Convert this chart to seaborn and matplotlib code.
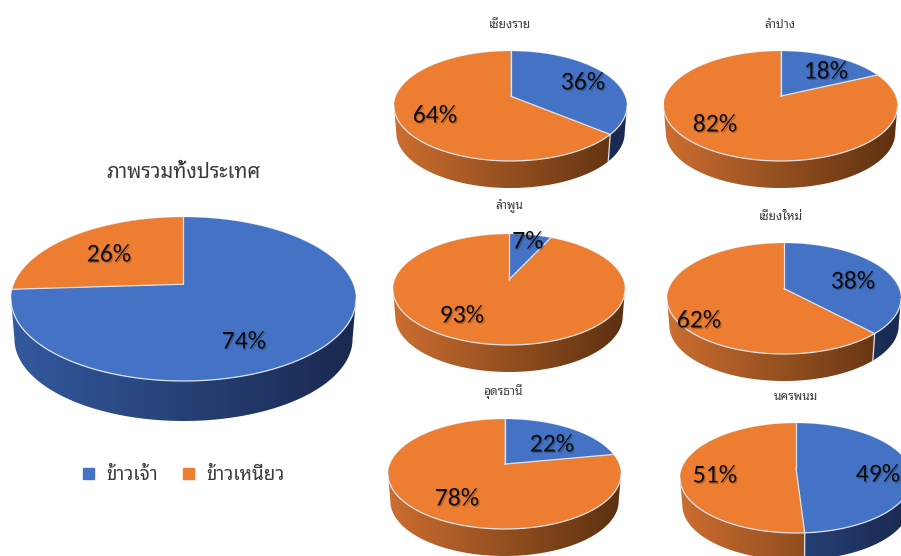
import numpy as np
import matplotlib
matplotlib.use('Agg')
import matplotlib.pyplot as plt
import matplotlib.patheffects as pe
from matplotlib.patches import Patch, Polygon
import seaborn as sns

sns.set_theme(style='white')
thai_font = ['Noto Sans Thai Looped', 'Sarabun', 'Noto Sans Thai', 'DejaVu Sans']
pct_font = ['Carlito', 'Lato', 'DejaVu Sans']

W, H = 901, 556

# data, blue share of each province (orange is the rest)
provinces = ['เชียงราย', 'ลำปาง', 'ลำพูน', 'เชียงใหม่', 'อุดรธานี', 'นครพนม']
blue_share = [36, 18, 7, 38, 22, 49]
orange_share = [64, 82, 93, 62, 78, 51]
overall_title = 'ภาพรวมทั้งประเทศ'
overall_blue = 74
overall_orange = 26
series_names = ['ข้าวเจ้า', 'ข้าวเหนียว']

colors = sns.color_palette(['#4472C4', '#ED7D31'])
side_left = [np.array([0.20, 0.35, 0.62]), np.array([0.80, 0.43, 0.19])]
side_right = [np.array([0.10, 0.16, 0.31]), np.array([0.36, 0.19, 0.06])]
rim = '#dde3ee'
text_color = '#3a3a3a'
TILT = 0.18
BOTTOM_SHRINK = 0.98

# layout in pixels: centre x, ellipse top, rx, ry, side depth
small_pies = [
    (510.5, 51, 116.5, 55, 27),
    (780.5, 51, 117, 55, 27),
    (509, 234, 116, 55.5, 27),
    (784, 243, 117, 55.5, 27),
    (504.5, 419, 116.5, 55, 27),
    (796, 423, 116, 55, 27),
]
big_pie = (183.5, 217, 172.5, 82, 40)
title_pos = [(510, 24), (780, 24), (509, 206), (781, 216), (503, 392), (796, 396)]
label_pos = [((583, 82), (435, 115)), ((826, 71), (715, 124)), ((528, 241), (462, 315)),
             ((853, 281), (699, 320)), ((552, 444), (457, 498)), ((878, 474), (715, 475))]
big_label_pos = ((244, 341), (109, 254))

fig = plt.figure(figsize=(W / 100, H / 100), dpi=100, facecolor='white')


def rim_point(theta, a=TILT):
    # circle seen in perspective, so the apex sits above the ellipse centre
    s = np.sqrt(1 - a * a)
    d = 1 + a * np.sin(theta)
    return np.cos(theta) * s / d, (np.sin(theta) + a) / d


def draw_pie(values, geom):
    cx, top, rx, ry, depth = geom
    dy = depth / ry
    ax = fig.add_axes([(cx - rx) / W, 1 - (top + 2 * ry + depth) / H, 2 * rx / W, (2 * ry + depth) / H])
    ax.axis('off')
    ax.patch.set_alpha(0)

    edges = np.pi / 2 - 2 * np.pi * np.cumsum([0] + list(values)) / sum(values)
    u = np.arcsin(TILT)

    # side wall first, only the part of each slice facing the viewer
    for i in range(len(values)):
        lo = max(edges[i + 1], -np.pi + u)
        hi = min(edges[i], -u)
        if lo >= hi:
            continue
        x, y = rim_point(np.linspace(lo, hi, 200))
        wall = Polygon(np.c_[np.r_[x, x[::-1] * BOTTOM_SHRINK], np.r_[y, y[::-1] - dy]],
                       closed=True, fc='none', ec='none', transform=ax.transData)
        ax.add_patch(wall)
        k = np.linspace(0, 1, 256)[None, :, None]
        grad = side_left[i] * (1 - k) + side_right[i] * k
        im = ax.imshow(grad, extent=(-1, 1, -1 - dy, 1), aspect='auto', zorder=1, interpolation='bilinear')
        im.set_clip_path(wall)

    # top faces
    for i in range(len(values)):
        x, y = rim_point(np.linspace(edges[i], edges[i + 1], 240))
        ax.fill(np.r_[0.0, x], np.r_[TILT, y], color=colors[i], lw=0, zorder=2)

    # pale lines on the rim and the slice borders
    t = np.linspace(-np.pi, 0, 300)
    ax.plot(np.cos(t), np.sin(t), color=rim, lw=0.9, zorder=3)
    t = np.linspace(0, np.pi, 300)
    ax.plot(np.cos(t), np.sin(t), color=rim, lw=0.3, alpha=0.5, zorder=3)
    for e in edges[:-1]:
        ex, ey = rim_point(e)
        ax.plot([0.0, ex], [TILT, ey], color=rim, lw=0.9, zorder=3)
    for e in edges[1:-1]:
        ex, ey = rim_point(e)
        if np.sin(e) < -TILT:
            ax.plot([ex, ex * BOTTOM_SHRINK], [ey, ey - dy], color=rim, lw=0.9, zorder=3)

    ax.set_xlim(-1, 1)
    ax.set_ylim(-1 - dy, 1)
    return ax


def px_text(pos, s, **kw):
    return fig.text(pos[0] / W, 1 - pos[1] / H, s, ha='center', va='center', **kw)


def pct_label(pos, value):
    px_text(pos, f'{value}%', family=pct_font, fontsize=18.5, color='#0c0c0c', zorder=10,
            path_effects=[pe.withSimplePatchShadow(offset=(1, -1), shadow_rgbFace='#000000', alpha=0.22)])


draw_pie([overall_blue, overall_orange], big_pie)
for lab, p in zip((overall_blue, overall_orange), big_label_pos):
    pct_label(p, lab)
px_text((184, 173), overall_title, family=thai_font, fontsize=14.5, color=text_color, weight='medium')

for name, b, o, geom, tp, lp in zip(provinces, blue_share, orange_share, small_pies, title_pos, label_pos):
    draw_pie([b, o], geom)
    pct_label(lp[0], b)
    pct_label(lp[1], o)
    px_text(tp, name, family=thai_font, fontsize=8.6, color=text_color, weight='medium')

handles = [Patch(color=colors[0], label=series_names[0]), Patch(color=colors[1], label=series_names[1])]
fig.legend(handles=handles, loc='center', bbox_to_anchor=(183.5 / W, 1 - 475 / H), ncol=2, frameon=False,
           prop={'family': thai_font, 'size': 13.5, 'weight': 'medium'}, labelcolor=text_color,
           handlelength=0.58, handleheight=0.58, handletextpad=0.65, columnspacing=1.35)

fig.savefig('out.png', dpi=100)
